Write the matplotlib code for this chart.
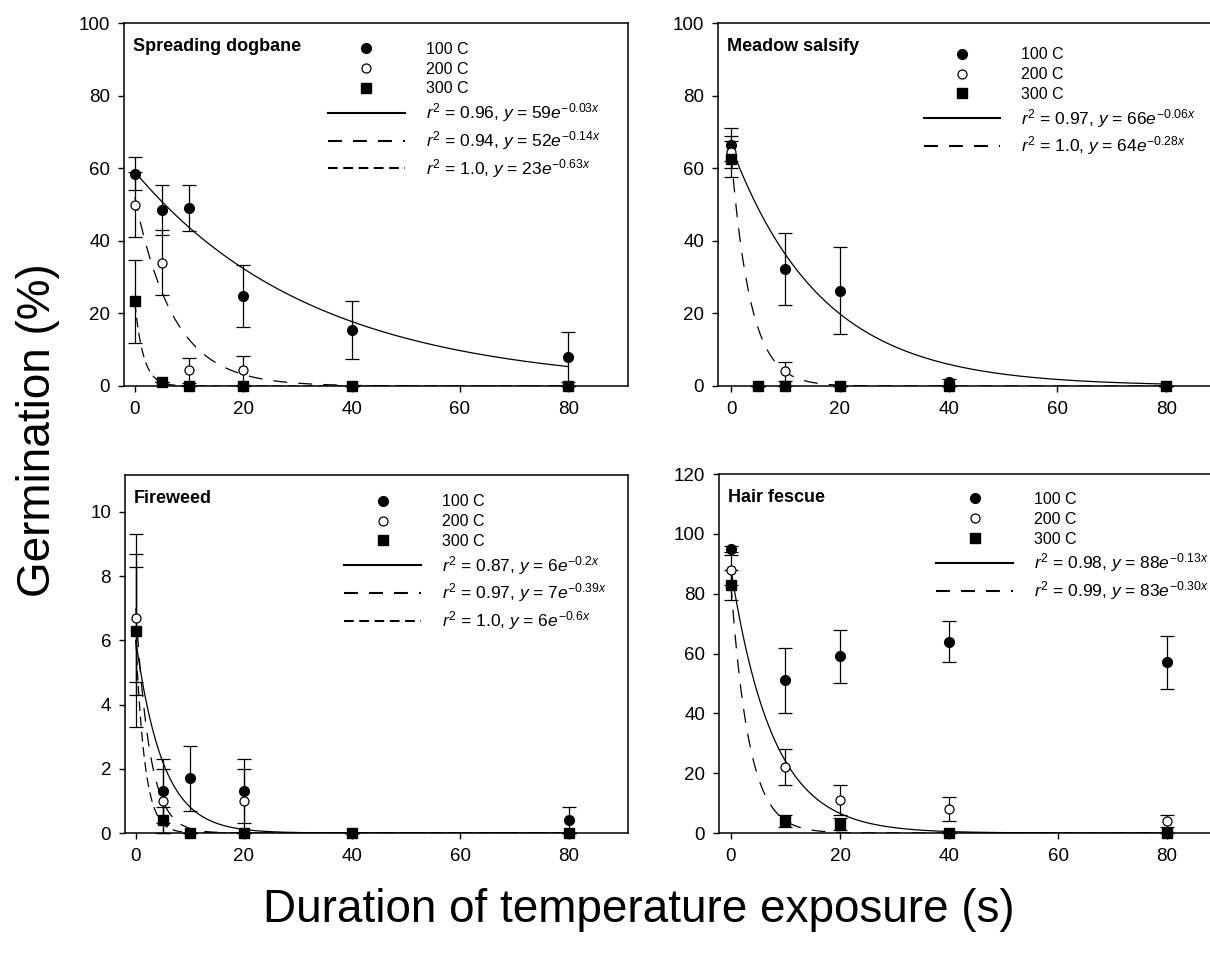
import numpy as np
import matplotlib
matplotlib.use("Agg")
import matplotlib.pyplot as plt
from matplotlib.lines import Line2D

plt.rcParams.update(
    {
        "font.family": ["Liberation Sans", "DejaVu Sans"],
        "mathtext.fontset": "custom",
        "mathtext.rm": "Liberation Sans",
        "mathtext.it": "Liberation Sans:italic",
        "mathtext.bf": "Liberation Sans:bold",
        "lines.scale_dashes": False,
        "axes.linewidth": 1.1,
    }
)

# ---- data ----
temp_labels = ["100 C", "200 C", "300 C"]

# Spreading dogbane
dogbane_x = [0, 5, 10, 20, 40, 80]
dogbane_100 = [58.5, 48.5, 49.0, 24.7, 15.5, 8.0]
dogbane_100_err = [4.5, 7.0, 6.3, 8.5, 8.0, 7.0]
dogbane_200 = [50.0, 34.0, 4.3, 4.3, 0.0, 0.0]
dogbane_200_err = [9.0, 9.0, 3.5, 4.0, 0.0, 0.0]
dogbane_300 = [23.3, 1.0, 0.0, 0.0, 0.0, 0.0]
dogbane_300_err = [11.4, 0.0, 0.0, 0.0, 0.0, 0.0]
dogbane_fit_a = [59, 52, 23]
dogbane_fit_k = [0.03, 0.14, 0.63]
dogbane_r2 = ["0.96", "0.94", "1.0"]
dogbane_k_txt = ["0.03", "0.14", "0.63"]

# Meadow salsify
salsify_x = [0, 5, 10, 20, 40, 80]
salsify_100 = [66.5, 0.0, 32.2, 26.3, 1.0, 0.0]
salsify_100_err = [4.5, 0.0, 10.0, 12.0, 1.0, 0.0]
salsify_200 = [64.5, 0.0, 4.0, 0.0, 0.0, 0.0]
salsify_200_err = [4.5, 0.0, 2.5, 0.0, 0.0, 0.0]
salsify_300 = [62.5, 0.0, 0.0, 0.0, 0.0, 0.0]
salsify_300_err = [5.0, 0.0, 0.0, 0.0, 0.0, 0.0]
salsify_fit_a = [66, 64]
salsify_fit_k = [0.06, 0.28]
salsify_r2 = ["0.97", "1.0"]
salsify_k_txt = ["0.06", "0.28"]

# Fireweed
fireweed_x = [0, 5, 10, 20, 40, 80]
fireweed_100 = [6.3, 1.3, 1.7, 1.3, 0.0, 0.4]
fireweed_100_err = [3.0, 1.0, 1.0, 1.0, 0.0, 0.4]
fireweed_200 = [6.7, 1.0, 0.0, 1.0, 0.0, 0.0]
fireweed_200_err = [2.0, 1.0, 0.0, 1.0, 0.0, 0.0]
fireweed_300 = [6.3, 0.4, 0.0, 0.0, 0.0, 0.0]
fireweed_300_err = [2.0, 0.4, 0.0, 0.0, 0.0, 0.0]
fireweed_fit_a = [6, 7, 6]
fireweed_fit_k = [0.2, 0.39, 0.6]
fireweed_r2 = ["0.87", "0.97", "1.0"]
fireweed_k_txt = ["0.2", "0.39", "0.6"]

# Hair fescue
fescue_x = [0, 10, 20, 40, 80]
fescue_100 = [95.0, 51.0, 59.0, 64.0, 57.0]
fescue_100_err = [1.0, 11.0, 9.0, 7.0, 9.0]
fescue_200 = [88.0, 22.0, 11.0, 8.0, 4.0]
fescue_200_err = [5.0, 6.0, 5.0, 4.0, 2.0]
fescue_300 = [83.0, 4.0, 3.0, 0.0, 0.0]
fescue_300_err = [5.0, 2.0, 2.0, 0.0, 0.0]
fescue_fit_a = [88, 83]
fescue_fit_k = [0.13, 0.30]
fescue_r2 = ["0.98", "0.99"]
fescue_k_txt = ["0.13", "0.30"]

# ---- styles ----
marker_styles = [
    dict(marker="o", mfc="black", mec="black", ms=7),
    dict(marker="o", mfc="white", mec="black", ms=6.5, mew=0.9),
    dict(marker="s", mfc="black", mec="black", ms=6.5),
]
line_dashes = ["-", (0, (10, 8)), (0, (7, 4))]

W, H = 1210, 959
fig = plt.figure(figsize=(W / 100, H / 100), dpi=100)


def px_axes(left, top, right, bottom):
    return fig.add_axes([left / W, 1 - bottom / H, (right - left) / W, (bottom - top) / H])


def draw_panel(ax, title, xs, series, errs, fit_a, fit_k, r2, k_txt,
               xlim, ylim, yticks, leg_anchor):
    # fitted exponential curves
    xfit = np.linspace(0, 80, 300)
    for a, k, ls in zip(fit_a, fit_k, line_dashes):
        ax.plot(xfit, a * np.exp(-k * xfit), color="black", lw=0.9, ls=ls, zorder=2)

    # observed means with error bars
    for ys, es, st in zip(series, errs, marker_styles):
        ax.errorbar(xs, ys, yerr=es, fmt="none", ecolor="black", elinewidth=0.9,
                    capsize=5, capthick=0.9, clip_on=False, zorder=3)
        ax.plot(xs, ys, ls="none", clip_on=False, zorder=4, **st)

    ax.set_xlim(*xlim)
    ax.set_ylim(*ylim)
    ax.set_xticks([0, 20, 40, 60, 80])
    ax.set_yticks(yticks)
    ax.tick_params(axis="both", direction="out", length=4, width=1.0, labelsize=13.5)
    ax.tick_params(axis="x", pad=7)
    ax.tick_params(axis="y", pad=6)

    ax.text(0.017, 0.958, title, transform=ax.transAxes, fontsize=13,
            fontweight="bold", ha="left", va="top")

    handles = [Line2D([], [], ls="none", **st) for st in marker_styles]
    labels = list(temp_labels)
    for a, r, kt, ls in zip(fit_a, r2, k_txt, line_dashes):
        handles.append(Line2D([], [], color="black", lw=1.5, ls=ls))
        labels.append(r"$r^2$ = %s, $y$ = %d$e^{-%s x}$" % (r, a, kt))
    leg = ax.legend(handles, labels, loc="upper left", bbox_to_anchor=leg_anchor,
                    frameon=False, fontsize=11.5, handlelength=4.8, handletextpad=1.3,
                    labelspacing=0.3, borderpad=0, borderaxespad=0, numpoints=1)
    # equation rows are set a little larger, as in the original
    for t in leg.get_texts()[3:]:
        t.set_fontsize(12.5)


ax1 = px_axes(124, 23, 628, 386)
draw_panel(ax1, "Spreading dogbane", dogbane_x,
           [dogbane_100, dogbane_200, dogbane_300],
           [dogbane_100_err, dogbane_200_err, dogbane_300_err],
           dogbane_fit_a, dogbane_fit_k, dogbane_r2, dogbane_k_txt,
           (-2, 91), (0, 100), np.arange(0, 101, 20), (0.405, 0.948))

ax2 = px_axes(718, 23, 1226, 386)
draw_panel(ax2, "Meadow salsify", salsify_x,
           [salsify_100, salsify_200, salsify_300],
           [salsify_100_err, salsify_200_err, salsify_300_err],
           salsify_fit_a, salsify_fit_k, salsify_r2, salsify_k_txt,
           (-2.4, 91), (0, 100), np.arange(0, 101, 20), (0.405, 0.933))

ax3 = px_axes(125, 475, 628, 833)
draw_panel(ax3, "Fireweed", fireweed_x,
           [fireweed_100, fireweed_200, fireweed_300],
           [fireweed_100_err, fireweed_200_err, fireweed_300_err],
           fireweed_fit_a, fireweed_fit_k, fireweed_r2, fireweed_k_txt,
           (-2, 91), (0, 11.15), np.arange(0, 11, 2), (0.436, 0.946))

ax4 = px_axes(719, 474, 1227, 833)
draw_panel(ax4, "Hair fescue", fescue_x,
           [fescue_100, fescue_200, fescue_300],
           [fescue_100_err, fescue_200_err, fescue_300_err],
           fescue_fit_a, fescue_fit_k, fescue_r2, fescue_k_txt,
           (-2.2, 91), (0, 120), np.arange(0, 121, 20), (0.428, 0.95))

fig.text(38 / W, 1 - 430 / H, "Germination (%)", rotation=90, ha="center",
         va="center", fontsize=33)
fig.text(639 / W, 1 - 910 / H, "Duration of temperature exposure (s)",
         ha="center", va="center", fontsize=33)

fig.savefig("out.png", dpi=100)
